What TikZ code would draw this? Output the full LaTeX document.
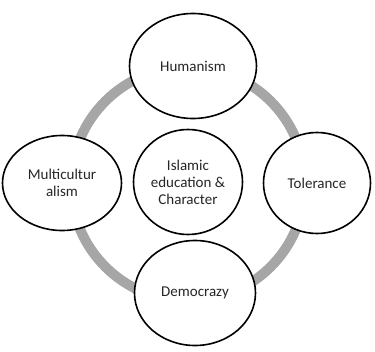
\documentclass[tikz,border=0pt]{standalone}
\usepackage{fontspec}
\setmainfont{Carlito}
\usetikzlibrary{shapes.geometric}
\definecolor{ringgray}{HTML}{A6A6A6}
\tikzset{
  bub/.style={ellipse, draw=black, line width=1.6pt, fill=white, inner sep=0pt,
    align=center, font=\fontsize{15}{17}\selectfont, text=black!85},
}
\begin{document}
\begin{tikzpicture}[x=1pt,y=-1pt]
\useasboundingbox (0,0) rectangle (375,351);
\coordinate (ringc) at (188,184);
\draw[ringgray, line width=10pt] (ringc) circle[radius=117];
\node[bub, minimum width=127pt, minimum height=105pt] (hum) at (193,66) {Humanism};
\node[bub, minimum width=107pt, minimum height=101pt] (tol) at (317,183) {Tolerance};
\node[bub, minimum width=119pt, minimum height=95pt] (mul) at (62,183) {Multicultur\\alism};
\node[bub, minimum width=109pt, minimum height=105pt] (isl) at (188,182) {Islamic\\education \&\\Character};
\node[bub, minimum width=121pt, minimum height=105pt] (dem) at (195,293) {Democrazy};
\end{tikzpicture}
\end{document}
